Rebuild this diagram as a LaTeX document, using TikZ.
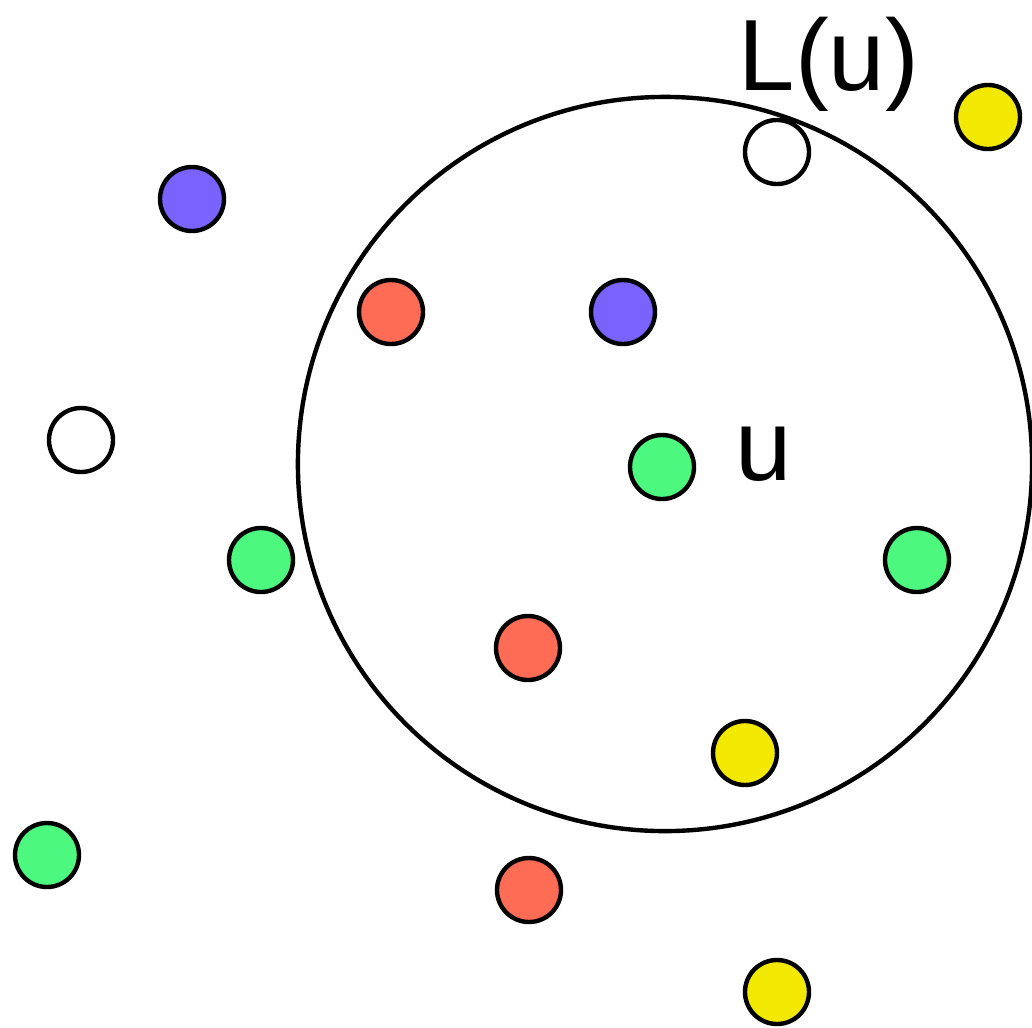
\documentclass[tikz,border=0pt]{standalone}
\usepackage{fontspec}
\setmainfont{Liberation Sans}
\usetikzlibrary{positioning}

\definecolor{azul}{HTML}{7A62FF}
\definecolor{rojo}{HTML}{FF6C55}
\definecolor{verde}{HTML}{4CF87E}
\definecolor{amarillo}{HTML}{F3E800}

\tikzset{
  punto/.style={circle, draw=black, line width=0.11cm, minimum size=1.6cm, inner sep=0pt},
  etiqueta/.style={font=\fontsize{72}{80}\selectfont, inner sep=0pt}
}

\begin{document}
\begin{tikzpicture}[x=0.025cm,y=-0.025cm]
\useasboundingbox (0,0) rectangle (1032,1027);

% Vecindad L(u)
\node[circle, draw=black, line width=0.11cm, minimum size=18.35cm, inner sep=0pt] (vecindad) at (665,464) {};
\node[etiqueta, anchor=base] (Lu) at (829,90) {L(u)};

% Puntos de colores
\foreach \nombre/\x/\y/\c in {
    a1/988/117/amarillo, b1/777/152/white, z1/192/199/azul,
    r1/391/312/rojo, z2/623/312/azul, b2/81/440/white,
    u/662/467/verde, v1/261/560/verde, v2/917/560/verde,
    r2/528/648/rojo, a2/745/753/amarillo, v3/47/855/verde,
    r3/529/890/rojo, a3/777/992/amarillo} {
    \node[punto, fill=\c] (\nombre) at (\x,\y) {};
}

% Nombre del punto central
\node[etiqueta, anchor=base] (nombreu) at (764,480) {u};

\end{tikzpicture}
\end{document}
